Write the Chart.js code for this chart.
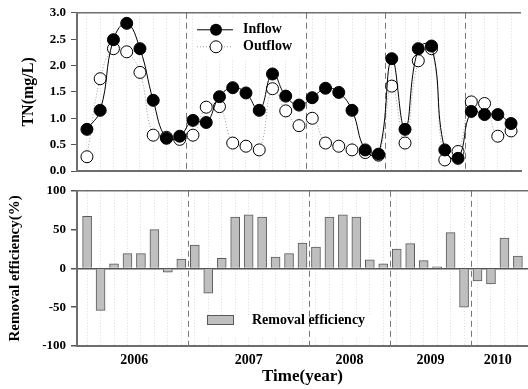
<!DOCTYPE html>
<html>
<head>
<meta charset="utf-8">
<title>TN inflow / outflow</title>
<script src="https://cdn.jsdelivr.net/npm/chart.js"></script>
<style>
    html, body { margin: 0; padding: 0; background: #fff; }
    #wrap { position: relative; width: 528px; height: 389px; overflow: hidden; }
    .panel { position: absolute; left: 0; width: 528px; }
    #panelTop { top: 0; height: 185px; }
    #panelBottom { top: 178px; height: 211px; }
</style>
</head>
<body>
<div id="wrap">
    <div class="panel" id="panelTop"><canvas id="tnChart"></canvas></div>
    <div class="panel" id="panelBottom"><canvas id="effChart"></canvas></div>
</div>
<script>
// Données
var years = ['2006', '2007', '2008', '2009', '2010'];
var yearCounts = [8, 9, 6, 6, 4];   // nombre de mesures par année

var inflow = [0.79, 1.15, 2.49, 2.80, 2.32, 1.34, 0.62, 0.66,
              0.96, 0.92, 1.41, 1.58, 1.48, 1.15, 1.84, 1.42, 1.25,
              1.39, 1.57, 1.49, 1.15, 0.40, 0.32,
              2.13, 0.79, 2.32, 2.37, 0.40, 0.24,
              1.13, 1.07, 1.07, 0.90];

var outflow = [0.27, 1.75, 2.32, 2.26, 1.87, 0.68, 0.64, 0.60,
               0.68, 1.21, 1.22, 0.53, 0.47, 0.40, 1.56, 1.14, 0.86,
               1.00, 0.53, 0.47, 0.40, 0.35, 0.30,
               1.61, 0.53, 2.09, 2.32, 0.21, 0.37,
               1.31, 1.28, 0.66, 0.76];

var removal = [67, -54, 6, 19, 19, 50, -5, 12,
               30, -32, 13, 66, 69, 66, 14.5, 19, 32.5,
               27.5, 66, 69, 66, 11, 6,
               25, 32, 10, 2, 46, -50,
               -16, -20, 39, 16];

var tnTicks = [0, 0.5, 1.0, 1.5, 2.0, 2.5, 3.0];
var effTicks = [-100, -50, 0, 50, 100];

(function() {
    'use strict';

    var SERIF = "'Liberation Serif', 'Times New Roman', serif";
    var AXIS_GREY = '#6e6e6e';

    function toPoints(arr) {
        return arr.map(function(v, i) { return { x: i, y: v }; });
    }

    // limites entre années (position après la dernière mesure de chaque année)
    function yearBreaks() {
        var out = [], acc = 0;
        for (var i = 0; i < yearCounts.length - 1; i++) {
            acc += yearCounts[i];
            out.push(acc - 0.5);
        }
        return out;
    }

    function xScaleOptions() {
        return {
            type: 'linear',
            offset: false,
            min: -0.75,
            max: inflow.length - 0.25,
            afterBuildTicks: function(scale) {
                scale.ticks = inflow.map(function(_, i) { return { value: i }; });
            },
            ticks: { display: false },
            grid: { offset: false, color: '#dcdcdc', lineWidth: 1, drawTicks: false },
            border: { color: AXIS_GREY, width: 2, dash: [1, 2] }
        };
    }

    function yScaleOptions(ticksArr, title, titlePad, titleSize) {
        return {
            min: ticksArr[0],
            max: ticksArr[ticksArr.length - 1],
            afterBuildTicks: function(scale) {
                scale.ticks = ticksArr.map(function(v) { return { value: v }; });
            },
            afterFit: function(scale) { scale.width = 77; },
            ticks: {
                color: '#000',
                padding: 5,
                font: { family: SERIF, size: 13, weight: 'bold' },
                callback: function(v) { return ticksArr[1] - ticksArr[0] < 1 ? Number(v).toFixed(1) : v; }
            },
            grid: {
                drawOnChartArea: false,
                drawTicks: true,
                tickLength: 6,
                tickColor: '#555',
                color: 'rgba(0,0,0,0)'
            },
            border: { color: AXIS_GREY, width: 2 },
            title: {
                display: true,
                text: title,
                color: '#000',
                padding: { top: titlePad, bottom: 0 },
                font: { family: SERIF, size: titleSize, weight: 'bold' }
            }
        };
    }

    // Cadre haut + séparateurs d'années en tirets
    var framePlugin = {
        id: 'frame',
        beforeDatasetsDraw: function(chart) {
            var ctx = chart.ctx, area = chart.chartArea, xs = chart.scales.x;
            var legendBox = chart.options.plugins.frame.legendBox;
            ctx.save();
            if (legendBox) {
                ctx.fillStyle = '#fff';
                ctx.fillRect(area.left + legendBox[0], area.top + legendBox[1], legendBox[2], legendBox[3]);
            }
            ctx.strokeStyle = '#777';
            ctx.lineWidth = 1;
            ctx.setLineDash([6, 4]);
            yearBreaks().forEach(function(b) {
                var px = Math.round(xs.getPixelForValue(b)) + 0.5;
                ctx.beginPath();
                ctx.moveTo(px, area.top);
                ctx.lineTo(px, area.bottom);
                ctx.stroke();
            });
            ctx.setLineDash([]);
            ctx.strokeStyle = AXIS_GREY;
            ctx.lineWidth = 1.5;
            ctx.beginPath();
            ctx.moveTo(area.left, area.top);
            ctx.lineTo(area.right, area.top);
            ctx.stroke();
            ctx.restore();
        }
    };

    // Légende du graphique du haut (dans la zone de tracé)
    var tnLegendPlugin = {
        id: 'tnLegend',
        afterDraw: function(chart) {
            var ctx = chart.ctx, area = chart.chartArea;
            var x0 = area.left + 120, rows = [area.top + 17, area.top + 34];
            ctx.save();
            ctx.font = 'bold 14px ' + SERIF;
            ctx.textBaseline = 'middle';
            ctx.textAlign = 'left';
            // Inflow
            ctx.strokeStyle = '#000';
            ctx.lineWidth = 1;
            ctx.beginPath(); ctx.moveTo(x0, rows[0]); ctx.lineTo(x0 + 36, rows[0]); ctx.stroke();
            ctx.fillStyle = '#000';
            ctx.beginPath(); ctx.arc(x0 + 19, rows[0], 6, 0, Math.PI * 2); ctx.fill();
            ctx.fillText('Inflow', x0 + 46, rows[0]);
            // Outflow
            ctx.strokeStyle = '#999';
            ctx.setLineDash([1, 2]);
            ctx.beginPath(); ctx.moveTo(x0, rows[1]); ctx.lineTo(x0 + 36, rows[1]); ctx.stroke();
            ctx.setLineDash([]);
            ctx.fillStyle = '#fff';
            ctx.strokeStyle = '#000';
            ctx.beginPath(); ctx.arc(x0 + 19, rows[1], 6, 0, Math.PI * 2); ctx.fill(); ctx.stroke();
            ctx.fillStyle = '#000';
            ctx.fillText('Outflow', x0 + 46, rows[1]);
            ctx.restore();
        }
    };

    // Légende + années du graphique du bas
    var effLegendPlugin = {
        id: 'effLegend',
        afterDraw: function(chart) {
            var ctx = chart.ctx, area = chart.chartArea, xs = chart.scales.x;
            ctx.save();
            var lx = area.left + 130, ly = area.bottom - 26;
            ctx.fillStyle = '#bfbfbf';
            ctx.strokeStyle = '#5a5a5a';
            ctx.lineWidth = 1;
            ctx.fillRect(lx, ly - 5, 27, 10);
            ctx.strokeRect(lx + 0.5, ly - 4.5, 26, 9);
            ctx.fillStyle = '#000';
            ctx.font = 'bold 14px ' + SERIF;
            ctx.textBaseline = 'middle';
            ctx.textAlign = 'left';
            ctx.fillText('Removal efficiency', lx + 45, ly);

            // années sous l'axe
            ctx.textAlign = 'center';
            ctx.font = 'bold 14px ' + SERIF;
            var start = 0;
            years.forEach(function(y, i) {
                var mid = start + (yearCounts[i] - 1) / 2;
                ctx.fillText(y, xs.getPixelForValue(mid), area.bottom + 14);
                start += yearCounts[i];
            });
            ctx.restore();
        }
    };

    function createTnChart() {
        var el = document.getElementById('tnChart');
        if (!el) { console.warn('#tnChart introuvable'); return; }
        var xOpts = xScaleOptions();
        xOpts.afterFit = function(scale) { scale.height = 14; };

        new Chart(el, {
            type: 'line',
            data: {
                datasets: [{
                    label: 'Inflow',
                    data: toPoints(inflow),
                    borderColor: '#000',
                    borderWidth: 1,
                    tension: 0.45,
                    pointRadius: 6,
                    pointBackgroundColor: '#000',
                    pointBorderColor: '#000',
                    pointBorderWidth: 1
                }, {
                    label: 'Outflow',
                    data: toPoints(outflow),
                    borderColor: '#9a9a9a',
                    borderWidth: 1,
                    borderDash: [1, 2],
                    tension: 0.45,
                    pointRadius: 6,
                    pointBackgroundColor: '#fff',
                    pointBorderColor: '#000',
                    pointBorderWidth: 1
                }]
            },
            options: {
                responsive: true,
                maintainAspectRatio: false,
                animation: false,
                layout: { padding: { top: 10, right: 0, left: 0, bottom: 0 } },
                plugins: {
                    legend: { display: false },
                    tooltip: { enabled: false },
                    frame: { legendBox: [116, 6, 108, 40] }
                },
                scales: {
                    x: xOpts,
                    y: yScaleOptions(tnTicks, 'TN(mg/L)', 19, 16)
                }
            },
            plugins: [framePlugin, tnLegendPlugin]
        });
    }

    function createEffChart() {
        var el = document.getElementById('effChart');
        if (!el) { console.warn('#effChart introuvable'); return; }
        var xOpts = xScaleOptions();
        xOpts.afterFit = function(scale) { scale.height = 43; };
        xOpts.title = {
            display: true,
            text: 'Time(year)',
            color: '#000',
            padding: { top: 0, bottom: 2 },
            font: { family: SERIF, size: 17, weight: 'bold' }
        };

        var yOpts = yScaleOptions(effTicks, 'Removal efficiency(%)', 6, 15);
        // ligne du zéro
        yOpts.grid.drawOnChartArea = true;
        yOpts.grid.color = function(c) { return c.tick && c.tick.value === 0 ? '#555' : 'rgba(0,0,0,0)'; };
        yOpts.grid.lineWidth = 1.5;

        new Chart(el, {
            type: 'bar',
            data: {
                datasets: [{
                    label: 'Removal efficiency',
                    data: toPoints(removal),
                    backgroundColor: '#bfbfbf',
                    borderColor: '#5a5a5a',
                    borderWidth: 1,
                    barThickness: 9
                }]
            },
            options: {
                responsive: true,
                maintainAspectRatio: false,
                animation: false,
                layout: { padding: { top: 9, right: 0, left: 0, bottom: 0 } },
                plugins: {
                    legend: { display: false },
                    tooltip: { enabled: false },
                    frame: { legendBox: [126, 125, 176, 22] }
                },
                scales: {
                    x: xOpts,
                    y: yOpts
                }
            },
            plugins: [framePlugin, effLegendPlugin]
        });
    }

    function initCharts() {
        if (typeof Chart === 'undefined') {
            console.error('Chart.js non chargé');
            return;
        }
        createTnChart();
        createEffChart();
    }

    if (document.readyState === 'loading') {
        document.addEventListener('DOMContentLoaded', initCharts);
    } else {
        initCharts();
    }
})();
</script>
</body>
</html>
